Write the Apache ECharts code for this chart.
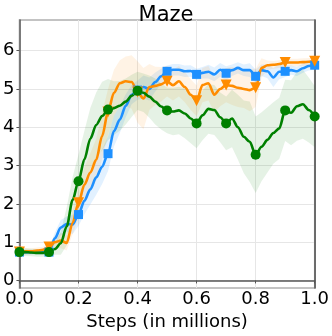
<!DOCTYPE html>
<html>
<head>
    <meta charset="utf-8">
    <title>Maze</title>
    <script src="https://cdn.jsdelivr.net/npm/echarts@6/dist/echarts.min.js"></script>
</head>
<body style="margin:0">
    <div id="main" style="width:332px;height:336px;"></div>
    <script type="text/javascript">
        var myChart = echarts.init(document.getElementById('main'));

        // x positions (millions of steps)
        var steps = [0.00, 0.02, 0.04, 0.06, 0.08, 0.10, 0.12, 0.14, 0.16, 0.18,
                     0.20, 0.22, 0.24, 0.26, 0.28, 0.30, 0.32, 0.34, 0.36, 0.38,
                     0.40, 0.42, 0.44, 0.46, 0.48, 0.50, 0.52, 0.54, 0.56, 0.58,
                     0.60, 0.62, 0.64, 0.66, 0.68, 0.70, 0.72, 0.74, 0.76, 0.78,
                     0.80, 0.82, 0.84, 0.86, 0.88, 0.90, 0.92, 0.94, 0.96, 0.98, 1.00];

        // blue (squares)
        var blueMean = [0.74, 0.74, 0.74, 0.74, 0.74, 0.74, 1.10, 1.38, 1.47, 1.46,
                        1.72, 2.08, 2.38, 2.69, 2.97, 3.31, 3.90, 4.20, 4.56, 4.85,
                        4.97, 5.05, 5.00, 5.18, 5.33, 5.46, 5.50, 5.50, 5.46, 5.47,
                        5.38, 5.42, 5.45, 5.38, 5.50, 5.41, 5.49, 5.55, 5.49, 5.49,
                        5.33, 5.49, 5.46, 5.30, 5.45, 5.46, 5.49, 5.46, 5.54, 5.60, 5.62];
        var blueSpread = [0.06, 0.06, 0.06, 0.06, 0.06, 0.08, 0.15, 0.20, 0.20, 0.25,
                          0.30, 0.35, 0.40, 0.45, 0.45, 0.45, 0.40, 0.35, 0.30, 0.25,
                          0.25, 0.30, 0.30, 0.25, 0.20, 0.15, 0.15, 0.15, 0.15, 0.15,
                          0.15, 0.15, 0.18, 0.18, 0.18, 0.18, 0.15, 0.15, 0.15, 0.18,
                          0.18, 0.15, 0.18, 0.25, 0.20, 0.15, 0.12, 0.12, 0.12, 0.12, 0.12];

        // orange (down triangles)
        var orangeMean = [0.74, 0.76, 0.76, 0.78, 0.80, 0.87, 1.00, 1.04, 0.98, 1.50,
                          2.03, 2.50, 2.82, 3.15, 3.77, 4.40, 4.90, 5.15, 5.20, 5.18,
                          4.92, 4.75, 5.05, 5.08, 5.12, 5.20, 5.10, 5.20, 5.05, 4.85,
                          4.69, 5.10, 5.15, 4.85, 5.00, 5.10, 5.08, 5.03, 5.00, 4.97,
                          5.03, 5.55, 5.62, 5.63, 5.65, 5.69, 5.69, 5.69, 5.70, 5.71, 5.72];
        var orangeSpread = [0.08, 0.08, 0.08, 0.08, 0.08, 0.10, 0.15, 0.20, 0.20, 0.30,
                            0.40, 0.45, 0.50, 0.55, 0.60, 0.60, 0.60, 0.60, 0.65, 0.70,
                            0.80, 0.80, 0.60, 0.50, 0.45, 0.40, 0.40, 0.40, 0.40, 0.40,
                            0.40, 0.45, 0.45, 0.45, 0.45, 0.45, 0.50, 0.50, 0.50, 0.55,
                            0.50, 0.25, 0.12, 0.10, 0.10, 0.10, 0.10, 0.10, 0.10, 0.10, 0.10];

        // green (circles)
        var greenMean = [0.74, 0.74, 0.73, 0.72, 0.72, 0.74, 0.82, 0.97, 1.41, 2.10,
                         2.59, 3.16, 3.70, 4.06, 4.29, 4.46, 4.50, 4.56, 4.67, 4.82,
                         4.95, 4.90, 4.80, 4.67, 4.54, 4.44, 4.41, 4.44, 4.36, 4.23,
                         4.10, 4.31, 4.48, 4.45, 4.26, 4.10, 4.23, 4.00, 3.75, 3.62,
                         3.28, 3.49, 3.67, 3.85, 3.97, 4.44, 4.38, 4.55, 4.60, 4.45, 4.28];
        var greenSpread = [0.10, 0.10, 0.10, 0.10, 0.10, 0.10, 0.15, 0.30, 0.50, 0.60,
                           0.70, 0.75, 0.80, 0.85, 0.90, 0.80, 0.70, 0.65, 0.60, 0.55,
                           0.50, 0.50, 0.55, 0.60, 0.60, 0.60, 0.62, 0.62, 0.65, 0.65,
                           0.65, 0.65, 0.65, 0.65, 0.65, 0.70, 0.75, 0.85, 0.95, 1.05,
                           1.00, 0.90, 0.85, 0.80, 0.80, 0.80, 0.85, 0.90, 0.90, 0.85, 0.80];

        var xTicks = [0, 0.2, 0.4, 0.6, 0.8, 1.0];
        var yTicks = [0, 1, 2, 3, 4, 5, 6];

        var font = 'DejaVu Sans';

        function pairs(ys) {
            return steps.map(function (x, i) { return [x, ys[i]]; });
        }

        function band(name, mean, spread, fill) {
            return {
                name: name,
                type: 'custom',
                silent: true,
                z: 1,
                data: [[0, 0]],
                renderItem: function (params, api) {
                    var pts = [];
                    for (var i = 0; i < steps.length; i++) {
                        pts.push(api.coord([steps[i], mean[i] + spread[i]]));
                    }
                    for (var j = steps.length - 1; j >= 0; j--) {
                        pts.push(api.coord([steps[j], mean[j] - spread[j]]));
                    }
                    return {
                        type: 'polygon',
                        shape: { points: pts },
                        style: { fill: fill }
                    };
                }
            };
        }

        function line(name, mean, color, symbol, size, rotate) {
            return {
                name: name,
                type: 'line',
                z: 3,
                data: pairs(mean),
                smooth: 0.3,
                smoothMonotone: 'x',
                showSymbol: true,
                showAllSymbol: true,
                symbol: symbol,
                symbolRotate: rotate || 0,
                symbolSize: function (v, params) {
                    return params.dataIndex % 5 === 0 ? size : 0;
                },
                lineStyle: { color: color, width: 2.6 },
                itemStyle: { color: color, borderWidth: 0 },
                emphasis: { disabled: true },
                silent: true
            };
        }

        var option = {
            animation: false,
            title: {
                text: 'Maze',
                left: 'center',
                top: 0,
                textStyle: {
                    color: '#000',
                    fontFamily: font,
                    fontWeight: 'normal',
                    fontSize: 21
                }
            },
            grid: {
                left: 15,
                right: 15,
                top: 20,
                bottom: 42,
                show: true,
                borderColor: '#b0b0b0',
                borderWidth: 1.5,
                backgroundColor: '#fff'
            },
            xAxis: {
                type: 'value',
                min: 0,
                max: 1,
                interval: 0.2,
                name: 'Steps (in millions)',
                nameLocation: 'middle',
                nameGap: 22,
                nameTextStyle: { color: '#000', fontFamily: font, fontSize: 18 },
                axisLine: { lineStyle: { color: '#555', width: 1.5 } },
                axisTick: { show: true, length: 3, lineStyle: { color: '#555' } },
                axisLabel: {
                    color: '#000',
                    fontFamily: font,
                    fontSize: 18,
                    margin: 2,
                    customValues: xTicks,
                    formatter: function (v) { return v.toFixed(1); }
                },
                splitLine: { lineStyle: { color: '#e6e6e6', width: 1 } }
            },
            yAxis: [{
                type: 'value',
                min: -0.2,
                max: 6.8,
                axisLine: { show: true, lineStyle: { color: '#555', width: 1.5 } },
                axisTick: { show: true, length: 3, customValues: yTicks, lineStyle: { color: '#555' } },
                axisLabel: {
                    color: '#000',
                    fontFamily: font,
                    fontSize: 18,
                    margin: 5,
                    customValues: yTicks
                },
                splitLine: { lineStyle: { color: '#e6e6e6', width: 1 } }
            }, {
                type: 'value',
                position: 'right',
                min: -0.2,
                max: 6.8,
                axisLine: { show: true, lineStyle: { color: '#444', width: 1.5 } },
                axisTick: { show: false },
                axisLabel: { show: false },
                splitLine: { show: false }
            }],
            series: [
                band('blueBand', blueMean, blueSpread, 'rgba(30,144,255,0.13)'),
                band('orangeBand', orangeMean, orangeSpread, 'rgba(255,140,0,0.10)'),
                band('greenBand', greenMean, greenSpread, 'rgba(0,128,0,0.10)'),
                line('blue', blueMean, '#1e90ff', 'rect', 9),
                line('orange', orangeMean, '#ff8c00', 'triangle', 11, 180),
                line('green', greenMean, '#008000', 'circle', 10)
            ]
        };

        myChart.setOption(option);
    </script>
</body>
</html>
